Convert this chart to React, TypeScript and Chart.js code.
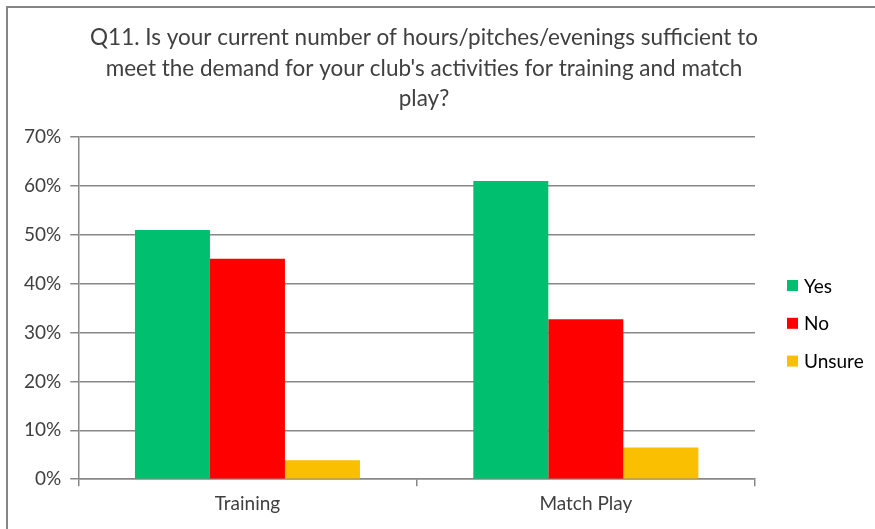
import React, { useEffect, useRef } from "react";
import { Chart, registerables } from "chart.js";

Chart.register(...registerables);

const categories = ["Training", "Match Play"];
const seriesNames = ["Yes", "No", "Unsure"];
const yesValues = [51, 61];
const noValues = [45.1, 32.7];
const unsureValues = [3.9, 6.5];
const colors = ["#00BF6F", "#FF0000", "#FABF00"];
const titleLines = [
  "Q11. Is your current number of hours/pitches/evenings sufficient to",
  "meet the demand for your club's activities for training and match",
  "play?",
];
const yTickMax = 70;
const yTickStep = 10;

const FONT = "Lato, 'Liberation Sans', sans-serif";

const titlePlugin = {
  id: "customTitle",
  afterDraw(chart: any) {
    const ctx = chart.ctx;
    ctx.save();
    ctx.fillStyle = "#404040";
    ctx.font = `22.5px ${FONT}`;
    ctx.textAlign = "center";
    ctx.textBaseline = "middle";
    titleLines.forEach((line, i) => {
      ctx.fillText(line, 424, 38 + i * 30.5);
    });
    ctx.restore();
  },
};

const legendPlugin = {
  id: "customLegend",
  afterDraw(chart: any) {
    const ctx = chart.ctx;
    ctx.save();
    ctx.font = `19px ${FONT}`;
    ctx.textBaseline = "middle";
    ctx.textAlign = "left";
    chart.data.datasets.forEach((ds: any, i: number) => {
      const cy = 285.5 + i * 37.8;
      ctx.fillStyle = ds.backgroundColor;
      ctx.fillRect(787, cy - 5.5, 11, 11);
      ctx.fillStyle = "#000";
      ctx.fillText(ds.label, 804, cy + 1);
    });
    ctx.restore();
  },
};

export default function App() {
  const ref = useRef<HTMLCanvasElement | null>(null);
  useEffect(() => {
    if (!ref.current) return;
    const values = [yesValues, noValues, unsureValues];
    const chart = new Chart(ref.current, {
      type: "bar",
      data: {
        labels: categories,
        datasets: seriesNames.map((name, i) => ({
          label: name,
          data: values[i],
          backgroundColor: colors[i],
          borderWidth: 0,
          barPercentage: 1,
          categoryPercentage: 0.665,
        })),
      },
      options: {
        responsive: false,
        animation: false,
        layout: { padding: { top: 137, left: 15, right: 120, bottom: 8 } },
        plugins: {
          title: { display: false },
          tooltip: { enabled: false },
          legend: { display: false },
        },
        scales: {
          x: {
            grid: {
              display: true,
              offset: true,
              drawOnChartArea: false,
              drawTicks: true,
              tickLength: 7,
              color: "#888",
              lineWidth: 1.5,
            },
            border: { display: true, color: "#888", width: 1.5 },
            ticks: {
              color: "#404040",
              font: { family: FONT, size: 19 },
              padding: 6,
            },
          },
          y: {
            min: 0,
            max: yTickMax,
            ticks: {
              stepSize: yTickStep,
              callback: (v: any) => v + "%",
              color: "#404040",
              font: { family: FONT, size: 19 },
              padding: 9,
            },
            grid: {
              color: "#888",
              lineWidth: 1.5,
              tickLength: 8,
              drawTicks: true,
            },
            border: { display: true, color: "#888", width: 1.5 },
          },
        },
      },
      plugins: [titlePlugin, legendPlugin],
    });
    return () => chart.destroy();
  }, []);

  return (
    <div style={{ position: "fixed", left: 0, top: 0, width: 875, height: 529, background: "#fff" }}>
      <div
        style={{
          position: "absolute",
          left: 6,
          top: 6,
          width: 900,
          height: 600,
          borderLeft: "2px solid #868686",
          borderTop: "2px solid #868686",
        }}
      />
      <canvas
        ref={ref}
        width={875}
        height={529}
        style={{ position: "absolute", left: 0, top: 0 }}
      />
    </div>
  );
}
